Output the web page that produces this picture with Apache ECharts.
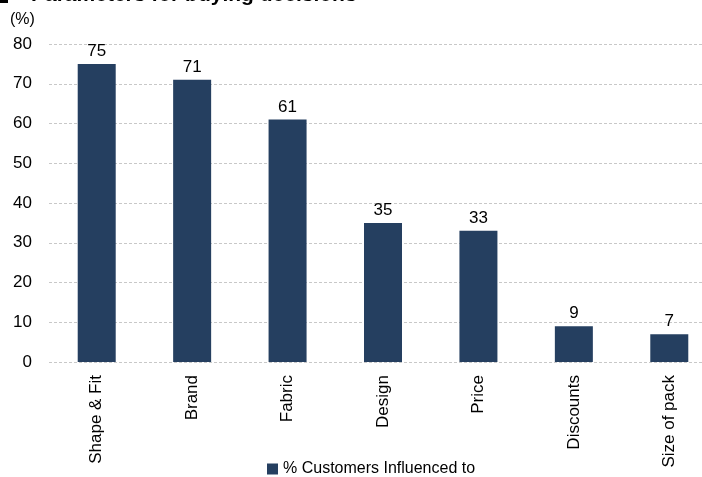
<!DOCTYPE html>
<html>
<head>
<meta charset="utf-8">
<script src="https://cdn.jsdelivr.net/npm/echarts@6/dist/echarts.min.js"></script>
<style>
  html, body { margin: 0; padding: 0; background: #fff; }
  #chart { width: 702px; height: 477px; }
</style>
</head>
<body>
<div id="chart"></div>
<script>
const categories = ["Shape & Fit", "Brand", "Fabric", "Design", "Price", "Discounts", "Size of pack"];
const influenced = [75, 71, 61, 35, 33, 9, 7];
const seriesName = "% Customers Influenced to";

const font = "'Liberation Sans', Arial, sans-serif";
const chart = echarts.init(document.getElementById("chart"));

chart.setOption({
  animation: false,
  textStyle: { fontFamily: font, color: "#000" },
  title: {
    text: "Parameters for buying decisions",
    left: 31,
    top: -15,
    padding: 0,
    textStyle: { fontFamily: font, fontSize: 21, fontWeight: "bold", color: "#000" }
  },
  graphic: [
    { type: "rect", left: 0, top: -8, shape: { width: 8, height: 11 }, style: { fill: "#000" } },
    { type: "text", left: 10, top: 12, style: { text: "(%)", fontFamily: font, fontSize: 16, fill: "#000" } }
  ],
  legend: {
    bottom: 0,
    left: 267,
    padding: 0,
    itemWidth: 11,
    itemHeight: 11,
    icon: "rect",
    itemGap: 5,
    textStyle: { fontFamily: font, fontSize: 16, color: "#000" },
    data: [seriesName]
  },
  grid: { left: 49, width: 668, top: 44, bottom: 115, outerBoundsMode: "none", containLabel: false },
  xAxis: {
    type: "category",
    data: categories,
    axisLine: { show: false },
    axisTick: { show: false },
    axisLabel: { rotate: 90, margin: 13, fontSize: 17, color: "#000", fontFamily: font }
  },
  yAxis: {
    type: "value",
    min: 0,
    max: 80,
    interval: 10,
    axisLine: { show: false },
    axisTick: { show: false },
    axisLabel: { margin: 17, fontSize: 17, color: "#000", fontFamily: font },
    splitLine: { lineStyle: { color: "#c8c8c8", type: [3, 2], width: 1 } }
  },
  series: [{
    name: seriesName,
    type: "bar",
    data: influenced,
    barWidth: 38,
    itemStyle: { color: "#253f60" },
    label: { show: true, position: "top", distance: 4, fontSize: 17, color: "#000", fontFamily: font }
  }]
});
</script>
</body>
</html>
